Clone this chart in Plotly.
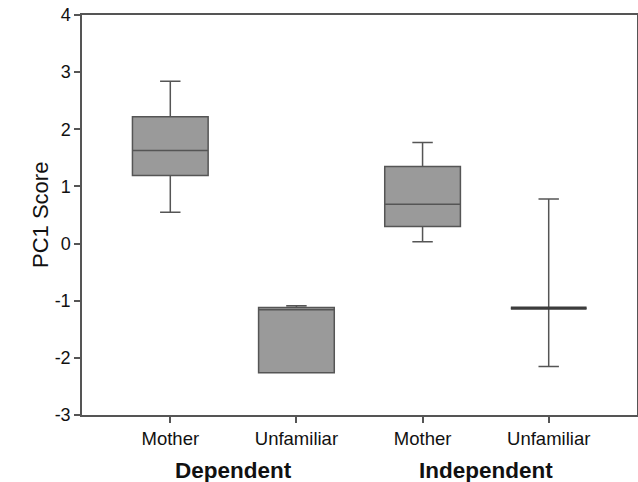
import plotly.graph_objects as go

groups = ["Dependent", "Independent"]
conditions = ["Mother", "Unfamiliar", "Mother", "Unfamiliar"]
positions = [0, 1, 2, 3]
lower_whisker = [0.55, -2.26, 0.03, -2.15]
q1 = [1.19, -2.26, 0.30, -1.13]
median = [1.63, -1.16, 0.69, -1.13]
q3 = [2.22, -1.12, 1.35, -1.13]
upper_whisker = [2.84, -1.09, 1.77, 0.78]
y_ticks = [-3, -2, -1, 0, 1, 2, 3, 4]
y_tick_text = [str(v) for v in y_ticks]

fig = go.Figure()
fig.add_trace(go.Box(
    x=positions,
    q1=q1, median=median, q3=q3,
    lowerfence=lower_whisker, upperfence=upper_whisker,
    width=0.6, whiskerwidth=0.27,
    fillcolor="#9a9a9a",
    line=dict(color="#555555", width=1.5),
    boxpoints=False, hoverinfo="skip", showlegend=False,
))

# collapsed boxes (q1 == q3) drawn as a thick dark line
idx = [i for i in range(len(positions)) if q1[i] == q3[i]]
fig.add_trace(go.Box(
    x=[positions[i] for i in idx],
    q1=[q1[i] for i in idx], median=[median[i] for i in idx], q3=[q3[i] for i in idx],
    lowerfence=[median[i] for i in idx], upperfence=[median[i] for i in idx],
    width=0.6, whiskerwidth=0,
    fillcolor="#3c3c3c",
    line=dict(color="#3c3c3c", width=3.2),
    boxpoints=False, hoverinfo="skip", showlegend=False,
))

for i, g in enumerate(groups):
    fig.add_annotation(
        x=(positions[2 * i] + positions[2 * i + 1]) / 2, xref="x",
        y=-0.1375, yref="paper", yanchor="middle",
        text="<b>" + g + "</b>", showarrow=False,
        font=dict(family="Liberation Sans, Arial", size=22.5, color="#111111"),
    )

fig.add_annotation(
    x=-0.0757, xref="paper", y=0.5, yref="paper",
    text="PC1 Score", textangle=-90, showarrow=False,
    xanchor="center", yanchor="middle",
    font=dict(family="Liberation Sans, Arial", size=22, color="#111111"),
)

axis_common = dict(
    showline=True, linecolor="#555555", linewidth=1.5, mirror=True,
    ticks="outside", ticklen=6, tickwidth=1.5, tickcolor="#555555",
    showgrid=False, zeroline=False, automargin=False,
)

fig.update_layout(
    width=638, height=482,
    margin=dict(l=82, r=1, t=15, b=67),
    paper_bgcolor="white", plot_bgcolor="white",
    boxmode="overlay",
    font=dict(family="Liberation Sans, Arial", color="#111111"),
    xaxis=dict(
        range=[-0.7, 3.7], tickmode="array", tickvals=positions, ticktext=conditions,
        tickfont=dict(size=18.5), **axis_common,
    ),
    yaxis=dict(
        range=[-3, 4], tickmode="array", tickvals=y_ticks, ticktext=y_tick_text,
        tickfont=dict(size=18),
        **axis_common,
    ),
)

fig.write_html("out.html", config={"displayModeBar": False},
               post_script="document.body.style.margin='0';")
